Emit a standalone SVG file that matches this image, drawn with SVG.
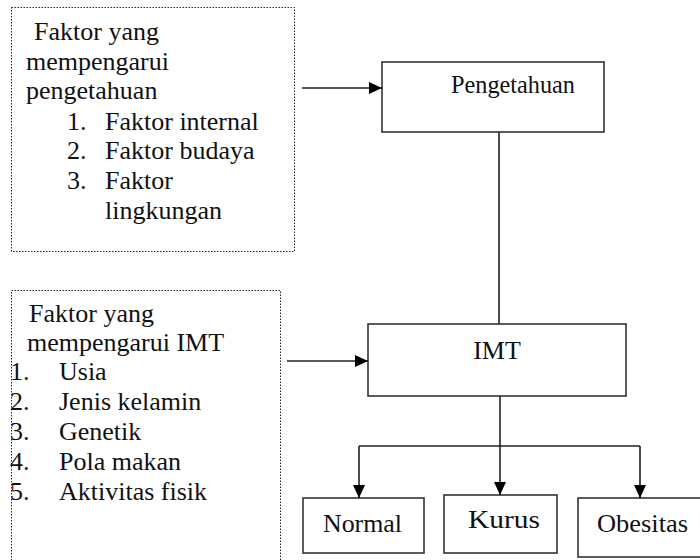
<svg xmlns="http://www.w3.org/2000/svg" width="700" height="560" viewBox="0 0 700 560">
<defs>
<style>
text{font-size:26px;fill:#111}
.dot{fill:none;stroke:#222;stroke-width:1;stroke-dasharray:1.5 1.5}
.box{fill:#fff;stroke:#333;stroke-width:1.6}
.ln{fill:none;stroke:#222;stroke-width:1.6}
</style>
<marker id="ah" viewBox="0 0 13 12" refX="13" refY="6" markerWidth="13" markerHeight="12" markerUnits="userSpaceOnUse" orient="auto">
<path d="M0,0 L13,6 L0,12 Z" fill="#000"/>
</marker>
</defs>
<rect width="700" height="560" fill="#fff"/>

<g id="faktor-pengetahuan" font-family="Liberation Serif">
<rect class="dot" x="11.5" y="7.5" width="283" height="244"/>
<text x="34" y="40">Faktor yang</text>
<text x="26" y="70">mempengarui</text>
<text x="26" y="99">pengetahuan</text>
<text x="67" y="130">1.</text><text x="105" y="130">Faktor internal</text>
<text x="67" y="159">2.</text><text x="105" y="159">Faktor budaya</text>
<text x="67" y="189">3.</text><text x="105" y="189">Faktor</text>
<text x="105" y="219">lingkungan</text>
</g>

<g id="faktor-imt" font-family="Liberation Serif">
<rect class="dot" x="11.5" y="290.5" width="269" height="280"/>
<text x="29" y="322">Faktor yang</text>
<text x="27" y="351">mempengarui IMT</text>
<text x="10" y="380">1.</text><text x="59" y="380">Usia</text>
<text x="10" y="410">2.</text><text x="59" y="410">Jenis kelamin</text>
<text x="10" y="440">3.</text><text x="59" y="440">Genetik</text>
<text x="10" y="470">4.</text><text x="59" y="470">Pola makan</text>
<text x="10" y="500">5.</text><text x="59" y="500">Aktivitas fisik</text>
</g>

<g id="pengetahuan" font-family="Liberation Serif">
<rect class="box" x="382" y="62" width="222" height="70"/>
<text x="451" y="93" textLength="124" lengthAdjust="spacingAndGlyphs">Pengetahuan</text>
</g>

<g id="imt" font-family="Liberation Serif">
<rect class="box" x="368" y="324" width="258" height="72"/>
<text x="497" y="359" text-anchor="middle">IMT</text>
</g>

<g id="normal" font-family="Liberation Serif">
<rect class="box" x="303" y="498" width="121" height="55"/>
<text x="323" y="532" textLength="79" lengthAdjust="spacingAndGlyphs">Normal</text>
</g>

<g id="kurus" font-family="Liberation Serif">
<rect class="box" x="444" y="495" width="113" height="58"/>
<text x="468" y="528" textLength="72" lengthAdjust="spacingAndGlyphs">Kurus</text>
</g>

<g id="obesitas" font-family="Liberation Serif">
<rect class="box" x="578" y="498" width="125" height="59"/>
<text x="597" y="532" textLength="91" lengthAdjust="spacingAndGlyphs">Obesitas</text>
</g>

<g id="connectors">
<line class="ln" x1="302" y1="88" x2="382" y2="88" marker-end="url(#ah)"/>
<line class="ln" x1="287" y1="361" x2="368" y2="361" marker-end="url(#ah)"/>
<line class="ln" x1="499" y1="132" x2="499" y2="324"/>
<line class="ln" x1="500" y1="396" x2="500" y2="495" marker-end="url(#ah)"/>
<line class="ln" x1="359" y1="446" x2="640" y2="446"/>
<line class="ln" x1="359" y1="446" x2="359" y2="498" marker-end="url(#ah)"/>
<line class="ln" x1="640" y1="446" x2="640" y2="498" marker-end="url(#ah)"/>
</g>
</svg>
